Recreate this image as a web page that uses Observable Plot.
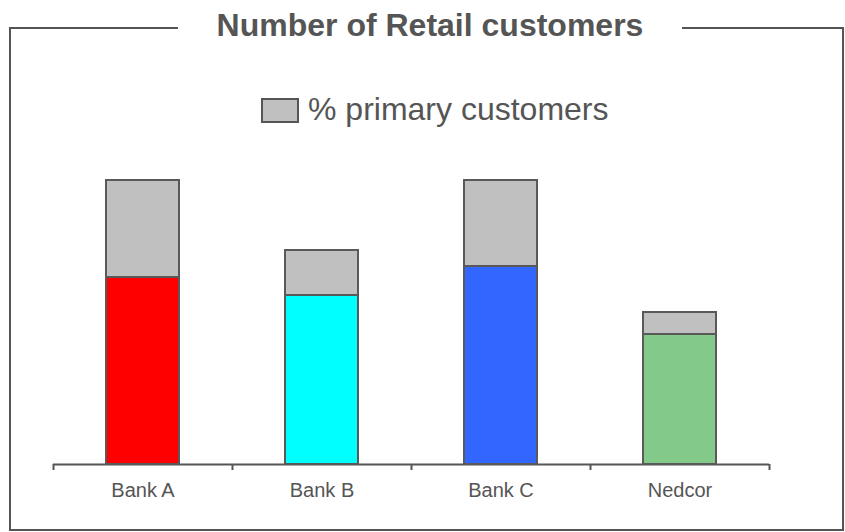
<!DOCTYPE html>
<html>
<head>
<meta charset="utf-8">
<script src="https://cdn.jsdelivr.net/npm/d3@7"></script>
<script src="https://cdn.jsdelivr.net/npm/@observablehq/plot@0.6"></script>
<style>
  body { margin: 0; background: #fff; font-family: "Liberation Sans", Arial, sans-serif; }
  #wrap { position: relative; width: 845px; height: 532px; overflow: hidden; background: #fff; }
  #chart { position: absolute; left: 0; top: 0; }
  #frame { position: absolute; left: 9px; top: 27px; width: 835px; height: 504px; box-sizing: border-box; border: 2px solid #555; }
  #title { position: absolute; left: 178px; width: 504px; top: 9px; height: 34px; line-height: 32px; font-size: 32px; font-weight: bold; color: #555; background: #fff; text-align: center; white-space: nowrap; }
  #legbox { position: absolute; left: 261px; top: 98px; width: 38px; height: 25px; box-sizing: border-box; border: 2px solid #555; background: #c0c0c0; }
  #legtext { position: absolute; left: 308px; top: 93px; line-height: 32px; font-size: 32px; color: #555; white-space: nowrap; }
</style>
</head>
<body>
<div id="wrap">
  <div id="chart"></div>
  <div id="frame"></div>
  <div id="title">Number of Retail customers</div>
  <div id="legbox"></div>
  <div id="legtext">% primary customers</div>
</div>
<script>
// Data (arbitrary units)
const categories = ["Bank A", "Bank B", "Bank C", "Nedcor"];
const totalCustomers = [5.68, 4.28, 5.68, 3.04];
const primaryCustomers = [3.74, 3.38, 3.96, 2.60];
const barColors = ["#ff0000", "#00ffff", "#3366ff", "#82c98a"];
const secondaryColor = "#c0c0c0";

const rows = categories.map((c, i) => ({
  bank: c,
  total: totalCustomers[i],
  primary: primaryCustomers[i],
  color: barColors[i]
}));

const width = 845, height = 532;
const marginLeft = 53, marginRight = 76;
const step = (width - marginLeft - marginRight) / categories.length;
const inset = (step - 73) / 2;

const chart = Plot.plot({
  width, height,
  marginLeft, marginRight,
  marginTop: 164, marginBottom: 68,
  style: { fontFamily: "Liberation Sans, Arial, sans-serif", background: "transparent" },
  x: { domain: categories, axis: null, padding: 0 },
  y: { domain: [0, 6], axis: null },
  marks: [
    Plot.ruleY([0], { stroke: "#555", strokeWidth: 2 }),
    Plot.ruleX(categories, { x: d => d, y1: 0, y2: -0.12, dx: -step / 2, stroke: "#555", strokeWidth: 2 }),
    Plot.ruleX([categories[categories.length - 1]], { x: d => d, y1: 0, y2: -0.12, dx: step / 2, stroke: "#555", strokeWidth: 2 }),
    Plot.barY(rows, { x: "bank", y1: "primary", y2: "total", fill: secondaryColor, stroke: "#595959", strokeWidth: 2, insetLeft: inset, insetRight: inset }),
    Plot.barY(rows, { x: "bank", y1: 0, y2: "primary", fill: d => d.color, stroke: "#595959", strokeWidth: 2, insetLeft: inset, insetRight: inset }),
    Plot.text(categories, { x: d => d, y: 0, dy: 18, lineAnchor: "top", fontSize: 20, fill: "#555", text: d => d })
  ]
});
document.getElementById("chart").appendChild(chart);
</script>
</body>
</html>
